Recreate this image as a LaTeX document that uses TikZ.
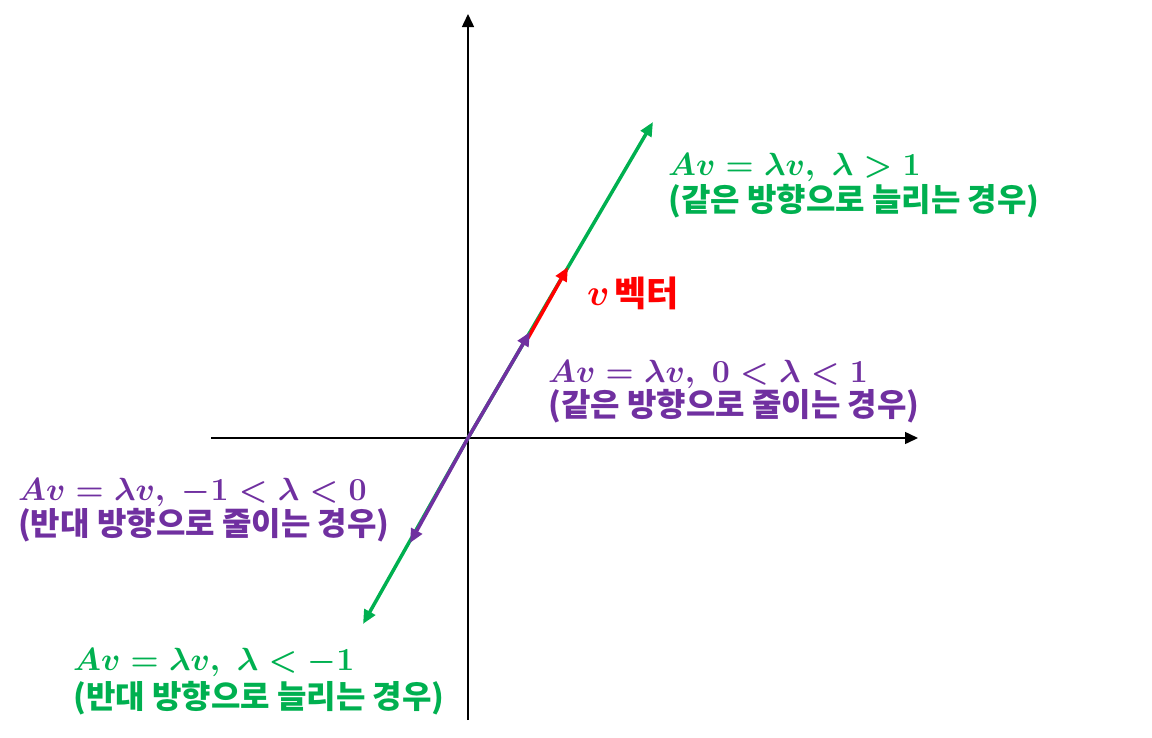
\documentclass[tikz,border=0pt]{standalone}
\usepackage{fontspec}
\usepackage{amsmath}
\usetikzlibrary{arrows.meta}
\newfontfamily\kr{Noto Sans CJK KR}
\definecolor{vgreen}{HTML}{00B050}
\definecolor{vpurple}{HTML}{7030A0}
\definecolor{vred}{HTML}{FF0000}
\newcommand{\mybigmath}[1]{\scalebox{1.29}{#1}}
\tikzset{
  axis/.style={line width=1.5pt, -{Triangle[length=13pt,width=12pt]}},
  vec/.style={line width=3.5pt, -{Triangle[length=14pt,width=12pt]}},
  mathlbl/.style={anchor=base west, inner sep=0pt, font=\fontsize{27}{30}\selectfont\boldmath},
  krlbl/.style={anchor=base west, inner sep=0pt, font=\fontsize{32}{36}\selectfont\kr\bfseries},
}
\begin{document}
\begin{tikzpicture}[x=1pt,y=-1pt]
\useasboundingbox (0,0) rectangle (1152,737);
% coordinates
\coordinate (O) at (468,438);
\coordinate (xl) at (211,438);
\coordinate (xr) at (918,438);
\coordinate (yb) at (468,720);
\coordinate (yt) at (468,14);
\coordinate (gup) at (653,122);
\coordinate (rtail) at (528,338);
\coordinate (rtip) at (568,267);
\coordinate (pup) at (530,332);
\coordinate (pdn) at (410,543);
\coordinate (gdn) at (363,624);
% axes
\draw[axis] (xl) -- (xr);
\draw[axis] (yb) -- (yt);
% vectors
\draw[vec, vgreen] (O) -- (gup);
\draw[vec, vgreen] (O) -- (gdn);
\draw[vec, vred] (rtail) -- (rtip);
\draw[vec, vpurple] (O) -- (pup);
\draw[vec, vpurple] (O) -- (pdn);
% labels
\node[mathlbl, text=vgreen] (l1a) at (668,175) {\mybigmath{$A v = \lambda v,\ \lambda > 1$}};
\node[krlbl, text=vgreen] (l1b) at (668,211) {(같은 방향으로 늘리는 경우)};
\node[mathlbl, text=vred] (l2a) at (587,305) {\scalebox{1.5}{$v$}};
\node[krlbl, text=vred, font=\fontsize{35}{38}\selectfont\kr\bfseries] (l2b) at (614,306) {벡터};
\node[mathlbl, text=vpurple] (l3a) at (548,382) {\mybigmath{$A v = \lambda v,\ 0 < \lambda < 1$}};
\node[krlbl, text=vpurple] (l3b) at (548,416) {(같은 방향으로 줄이는 경우)};
\node[mathlbl, text=vpurple] (l4a) at (18,500) {\mybigmath{$A v = \lambda v,\ -1 < \lambda < 0$}};
\node[krlbl, text=vpurple] (l4b) at (18,535) {(반대 방향으로 줄이는 경우)};
\node[mathlbl, text=vgreen] (l5a) at (73,670) {\mybigmath{$A v = \lambda v,\ \lambda < -1$}};
\node[krlbl, text=vgreen] (l5b) at (73,708) {(반대 방향으로 늘리는 경우)};
\end{tikzpicture}
\end{document}
